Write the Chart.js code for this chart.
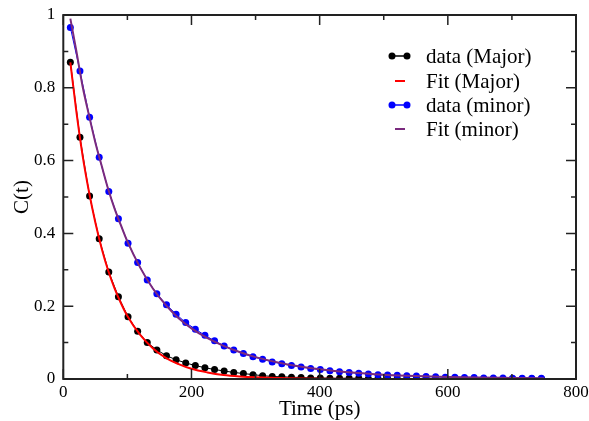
<!DOCTYPE html>
<html>
<head>
<meta charset="utf-8">
<script src="https://cdn.jsdelivr.net/npm/chart.js@4"></script>
<style>
  html, body { margin: 0; padding: 0; background: #fff; }
  #wrap { width: 589px; height: 421px; }
</style>
</head>
<body>
<div id="wrap"><canvas id="corrChart" width="589" height="421"></canvas></div>
<script>
// time points of the sampled data (ps)
const dataTimes = [11, 26, 41, 56, 71, 86, 101, 116, 131, 146,
  161, 176, 191, 206, 221, 236, 251, 266, 281, 296,
  311, 326, 341, 356, 371, 386, 401, 416, 431, 446,
  461, 476, 491, 506, 521, 536, 551, 566, 581, 596,
  611, 626, 641, 656, 671, 686, 701, 716, 731, 746];

const dataMajor = [0.870, 0.664, 0.503, 0.385, 0.294, 0.226, 0.171, 0.131, 0.100, 0.080,
  0.064, 0.053, 0.044, 0.037, 0.031, 0.026, 0.022, 0.018, 0.015, 0.012,
  0.009, 0.007, 0.006, 0.005, 0.004, 0.003, 0.003, 0.002, 0.002, 0.002,
  0.002, 0.001, 0.001, 0.001, 0.001, 0.001, 0.001, 0.001, 0.001, 0.001,
  0.001, 0.001, 0.001, 0.001, 0.001, 0.001, 0.001, 0.001, 0.001, 0.001];

const dataMinor = [0.966, 0.846, 0.719, 0.609, 0.515, 0.440, 0.373, 0.320, 0.272, 0.234,
  0.204, 0.178, 0.155, 0.137, 0.120, 0.105, 0.091, 0.080, 0.070, 0.061,
  0.054, 0.047, 0.042, 0.037, 0.033, 0.029, 0.026, 0.023, 0.020, 0.018,
  0.016, 0.014, 0.012, 0.011, 0.010, 0.009, 0.008, 0.007, 0.006, 0.005,
  0.005, 0.004, 0.004, 0.003, 0.003, 0.003, 0.002, 0.002, 0.002, 0.002];

// fitted curves
const fitMajorTimes = [11, 20, 30, 40, 50, 60, 70, 80, 90, 100, 120, 140, 160, 180, 200, 225, 250, 275, 300, 350, 400, 500, 600, 750];
const fitMajor = [0.870, 0.740, 0.615, 0.515, 0.430, 0.358, 0.298, 0.249, 0.208, 0.173, 0.121, 0.084, 0.058, 0.041, 0.028, 0.018, 0.011, 0.007, 0.0045, 0.0018, 0.0007, 0.0001, 0, 0];

const fitMinorTimes = [11, 20, 30, 40, 50, 60, 70, 80, 90, 100, 120, 140, 160, 180, 200, 225, 250, 275, 300, 350, 400, 450, 500, 550, 600, 650, 700, 750];
const fitMinor = [0.990, 0.905, 0.805, 0.725, 0.650, 0.585, 0.522, 0.468, 0.422, 0.378, 0.306, 0.248, 0.203, 0.167, 0.139, 0.112, 0.091, 0.074, 0.060, 0.040, 0.027, 0.018, 0.012, 0.008, 0.0055, 0.004, 0.003, 0.002];

const xTickLabels = ["0", "200", "400", "600", "800"];
const yTickLabels = ["0", "0.2", "0.4", "0.6", "0.8", "1"];
const xMinorTicks = [100, 300, 500, 700];
const yMinorTicks = [0.1, 0.3, 0.5, 0.7, 0.9];

const seriesNames = ["data (Major)", "Fit (Major)", "data (minor)", "Fit (minor)"];

const pairs = (xs, ys) => xs.map((x, i) => ({ x: x, y: ys[i] }));
const serif = "'Liberation Serif', 'DejaVu Serif', serif";

// xmgrace-like frame with inward ticks on all four sides
const framePlugin = {
  id: "frame",
  afterDatasetsDraw(chart) {
    const { ctx, chartArea: a, scales: { x, y } } = chart;
    ctx.save();
    ctx.strokeStyle = "#222";
    ctx.lineWidth = 2;
    ctx.strokeRect(a.left, a.top, a.right - a.left, a.bottom - a.top);
    ctx.lineWidth = 1.5;
    ctx.beginPath();
    const tickX = (v, len) => {
      const px = x.getPixelForValue(v);
      ctx.moveTo(px, a.bottom); ctx.lineTo(px, a.bottom - len);
      ctx.moveTo(px, a.top); ctx.lineTo(px, a.top + len);
    };
    const tickY = (v, len) => {
      const py = y.getPixelForValue(v);
      ctx.moveTo(a.left, py); ctx.lineTo(a.left + len, py);
      ctx.moveTo(a.right, py); ctx.lineTo(a.right - len, py);
    };
    x.ticks.forEach(t => tickX(t.value, 10));
    xMinorTicks.forEach(v => tickX(v, 5));
    y.ticks.forEach(t => tickY(t.value, 10));
    yMinorTicks.forEach(v => tickY(v, 5));
    ctx.stroke();
    ctx.restore();
  },
  afterDraw(chart) {
    const ctx = chart.ctx;
    const sets = chart.data.datasets;
    ctx.save();
    ctx.font = "21px " + serif;
    ctx.textBaseline = "middle";
    ctx.fillStyle = "#000";
    const rowY = [56, 81, 105, 129];
    seriesNames.forEach((name, i) => {
      const ds = sets[i];
      const yy = rowY[i];
      ctx.strokeStyle = ds.borderColor;
      if (ds.pointRadius > 0) {
        ctx.lineWidth = 1.5;
        ctx.beginPath(); ctx.moveTo(392, yy); ctx.lineTo(407, yy); ctx.stroke();
        ctx.fillStyle = ds.pointBackgroundColor;
        [392, 407].forEach(px => {
          ctx.beginPath(); ctx.arc(px, yy, 3.5, 0, Math.PI * 2); ctx.fill();
        });
      } else {
        ctx.lineWidth = 2;
        ctx.beginPath(); ctx.moveTo(395, yy); ctx.lineTo(405, yy); ctx.stroke();
      }
      ctx.fillStyle = "#000";
      ctx.fillText(name, 426, yy + 1);
    });
    ctx.restore();
  }
};

new Chart(document.getElementById("corrChart"), {
  type: "scatter",
  data: {
    datasets: [
      {
        label: seriesNames[0],
        data: pairs(dataTimes, dataMajor),
        showLine: true,
        borderColor: "#000",
        borderWidth: 1,
        pointBackgroundColor: "#000",
        pointBorderWidth: 0,
        pointRadius: 3.5,
        order: 3
      },
      {
        label: seriesNames[1],
        data: pairs(fitMajorTimes, fitMajor),
        showLine: true,
        tension: 0.4,
        cubicInterpolationMode: "monotone",
        borderColor: "#ff0000",
        borderWidth: 2,
        pointRadius: 0,
        order: 2
      },
      {
        label: seriesNames[2],
        data: pairs(dataTimes, dataMinor),
        showLine: true,
        borderColor: "#0000ff",
        borderWidth: 1,
        pointBackgroundColor: "#0000ff",
        pointBorderWidth: 0,
        pointRadius: 3.5,
        order: 1
      },
      {
        label: seriesNames[3],
        data: pairs(fitMinorTimes, fitMinor),
        showLine: true,
        cubicInterpolationMode: "monotone",
        borderColor: "#7a2a7e",
        borderWidth: 2,
        pointRadius: 0,
        order: 0
      }
    ]
  },
  options: {
    responsive: false,
    animation: false,
    layout: { padding: { top: 15, right: 13, left: 0, bottom: 0 } },
    plugins: { legend: { display: false }, tooltip: { enabled: false } },
    scales: {
      x: {
        type: "linear",
        min: 0,
        max: 800,
        grid: { display: false, drawTicks: false },
        border: { display: false },
        ticks: {
          stepSize: 200,
          padding: 3,
          color: "#000",
          font: { family: serif, size: 17 },
          callback: (v, i) => xTickLabels[i]
        },
        title: {
          display: true,
          text: "Time (ps)",
          color: "#000",
          font: { family: serif, size: 21, lineHeight: 1 },
          padding: { top: 0, bottom: 1 }
        },
        afterFit: s => { s.height = 42; s.paddingLeft = 0; s.paddingRight = 0; }
      },
      y: {
        type: "linear",
        min: 0,
        max: 1,
        grid: { display: false, drawTicks: false },
        border: { display: false },
        ticks: {
          stepSize: 0.2,
          padding: 8,
          color: "#000",
          font: { family: serif, size: 17 },
          callback: (v, i) => yTickLabels[i]
        },
        title: {
          display: true,
          text: "C(t)",
          color: "#000",
          font: { family: serif, size: 21, lineHeight: 1 },
          padding: { top: 12, bottom: 0 }
        },
        afterFit: s => { s.width = 63.3; s.paddingTop = 0; s.paddingBottom = 0; }
      }
    }
  },
  plugins: [framePlugin]
});
</script>
</body>
</html>
